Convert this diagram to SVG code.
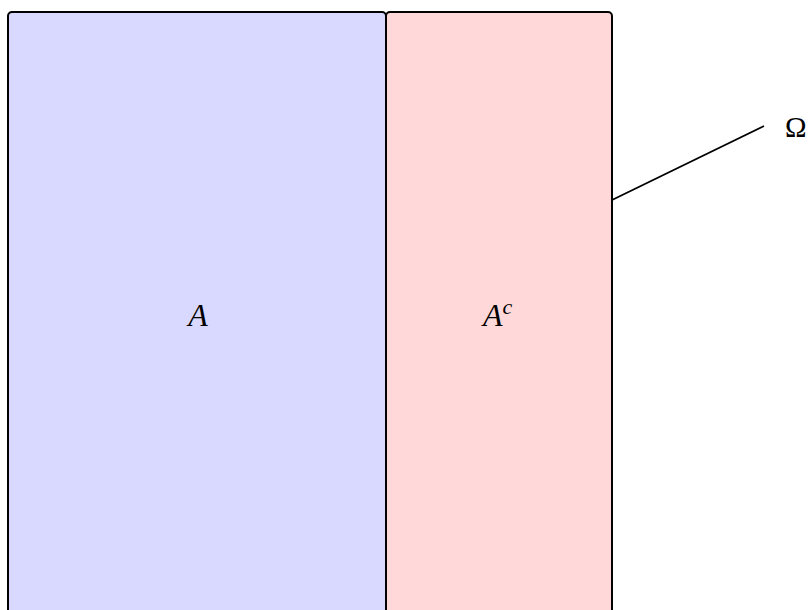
<svg xmlns="http://www.w3.org/2000/svg" width="810" height="610" viewBox="0 0 810 610">
<style>
.set{stroke:#000;stroke-width:2}
.lbl{font-family:"Liberation Serif","DejaVu Serif",serif;font-size:32px;fill:#000}
.om{font-size:29px}
</style>
<rect width="810" height="610" fill="#fff"/>
<g id="A">
<rect class="set" x="8" y="12" width="378" height="700" rx="4" fill="#d9d9ff"/>
<text class="lbl" x="198" y="326" text-anchor="middle" font-style="italic">A</text>
</g>
<g id="Ac">
<rect class="set" x="386" y="12" width="226" height="700" rx="4" fill="#ffd9d9"/>
<text class="lbl" x="483" y="326" font-style="italic">A<tspan font-size="22" dy="-12">c</tspan></text>
</g>
<g id="connectors">
<line x1="612" y1="200" x2="764" y2="126" stroke="#000" stroke-width="1.8"/>
</g>
<g id="Omega">
<text class="lbl om" x="785" y="137">Ω</text>
</g>
</svg>
